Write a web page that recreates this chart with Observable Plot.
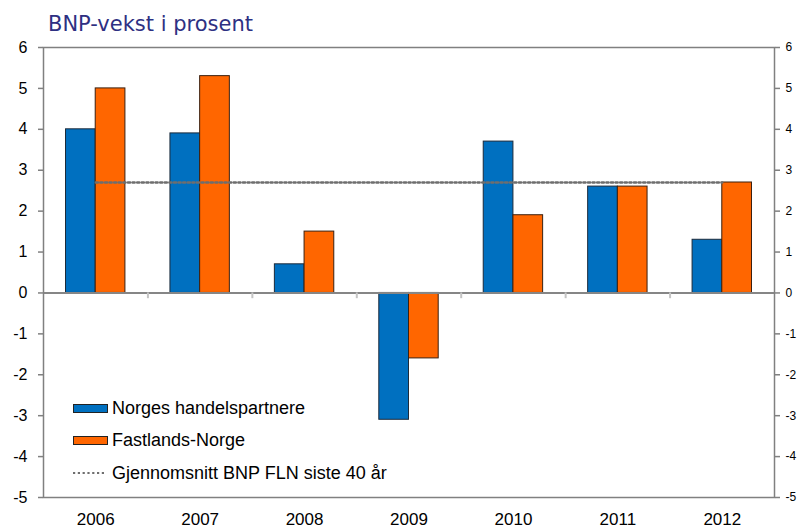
<!DOCTYPE html>
<html>
<head>
<meta charset="utf-8">
<script src="https://cdn.jsdelivr.net/npm/d3@7"></script>
<script src="https://cdn.jsdelivr.net/npm/@observablehq/plot@0.6"></script>
<style>
  html, body { margin: 0; padding: 0; background: #fff; }
  #wrap { position: relative; width: 803px; height: 529px; overflow: hidden; font-family: "Liberation Sans", Arial, sans-serif; }
  #title { position: absolute; left: 48px; top: 14px; font-family: "DejaVu Sans", Verdana, sans-serif; font-size: 21px; line-height: 21px; color: #2e3082; white-space: nowrap; }
  .lg { position: absolute; font-size: 18px; line-height: 18px; color: #000; white-space: nowrap; }
  .sw { position: absolute; width: 33px; height: 7px; border: 1px solid #222; }
</style>
</head>
<body>
<div id="wrap">
  <div id="chart"></div>
  <div id="title">BNP-vekst i prosent</div>
  <div id="legend"></div>
</div>
<script>
const years = ["2006", "2007", "2008", "2009", "2010", "2011", "2012"];
const partners = [4.0, 3.9, 0.7, -3.1, 3.7, 2.6, 1.3];   // Norges handelspartnere
const mainland = [5.0, 5.3, 1.5, -1.6, 1.9, 2.6, 2.7];   // Fastlands-Norge
const average = 2.7;                                      // Gjennomsnitt BNP FLN siste 40 år
const yTicks = [-5, -4, -3, -2, -1, 0, 1, 2, 3, 4, 5, 6];
const seriesNames = ["Norges handelspartnere", "Fastlands-Norge", "Gjennomsnitt BNP FLN siste 40 år"];
const colors = ["#0070C0", "#FF6600"];

const rows = years.map((y, i) => ({year: y, partners: partners[i], mainland: mainland[i]}));

const W = 803, H = 529, mL = 43, mR = 29, mT = 47, mB = 32;
const bw = (W - mL - mR) / years.length;
const barW = 29.7;
const outer = bw / 2 - barW;

const chart = Plot.plot({
  width: W, height: H,
  marginLeft: mL, marginRight: mR, marginTop: mT, marginBottom: mB,
  style: {fontFamily: "'Liberation Sans', Arial, sans-serif", background: "white", color: "#000", overflow: "visible"},
  x: {domain: years, padding: 0, round: false, label: null},
  y: {domain: [-5, 6], label: null},
  marks: [
    Plot.barY(rows, {x: "year", y: "partners", fill: colors[0], stroke: "#1c2a3a", strokeWidth: 1, insetLeft: outer, insetRight: bw / 2}),
    Plot.barY(rows, {x: "year", y: "mainland", fill: colors[1], stroke: "#3a2010", strokeWidth: 1, insetLeft: bw / 2, insetRight: outer}),
    Plot.ruleY([0], {stroke: "#868686", strokeWidth: 2}),
    Plot.ruleX(years.slice(0, -1), {x: d => d, y1: 0, y2: -0.14, dx: bw / 2, stroke: "#c4c4c4", strokeWidth: 2}),
    Plot.lineY(years, {x: d => d, y: () => average, stroke: "#6e6e6e", strokeWidth: 2.4, strokeDasharray: "2.2,2.4"}),
    Plot.frame({stroke: "#808080", strokeWidth: 1.5}),
    Plot.axisX({anchor: "bottom", tickSize: 0, tickPadding: 15, fontSize: 17, label: null}),
    Plot.axisY(yTicks, {anchor: "left", tickSize: 5, tickPadding: 11, fontSize: 16, stroke: "#808080", strokeWidth: 1.5, tickFormat: d => String(d), label: null}),
    Plot.axisY(yTicks, {anchor: "right", tickSize: 5, tickPadding: 6, fontSize: 12, stroke: "#808080", strokeWidth: 1.5, tickFormat: d => String(d), label: null})
  ]
});
document.getElementById("chart").appendChild(chart);

const legend = document.getElementById("legend");
const rowsTop = [399, 430.5, 463.8];
const ns = "http://www.w3.org/2000/svg";
seriesNames.forEach((name, i) => {
  if (i < 2) {
    const s = document.createElement("div");
    s.className = "sw";
    s.style.left = "73px";
    s.style.top = (i === 0 ? 404 : 435.5) + "px";
    s.style.background = colors[i];
    legend.appendChild(s);
  } else {
    const svg = document.createElementNS(ns, "svg");
    svg.setAttribute("width", "34");
    svg.setAttribute("height", "6");
    svg.style.position = "absolute";
    svg.style.left = "72px";
    svg.style.top = "470px";
    const ln = document.createElementNS(ns, "line");
    ln.setAttribute("x1", "1"); ln.setAttribute("x2", "32");
    ln.setAttribute("y1", "3"); ln.setAttribute("y2", "3");
    ln.setAttribute("stroke", "#6e6e6e");
    ln.setAttribute("stroke-width", "2.2");
    ln.setAttribute("stroke-dasharray", "2.2,2.6");
    svg.appendChild(ln);
    legend.appendChild(svg);
  }
  const t = document.createElement("div");
  t.className = "lg";
  t.style.left = "112px";
  t.style.top = rowsTop[i] + "px";
  t.textContent = name;
  legend.appendChild(t);
});
</script>
</body>
</html>
